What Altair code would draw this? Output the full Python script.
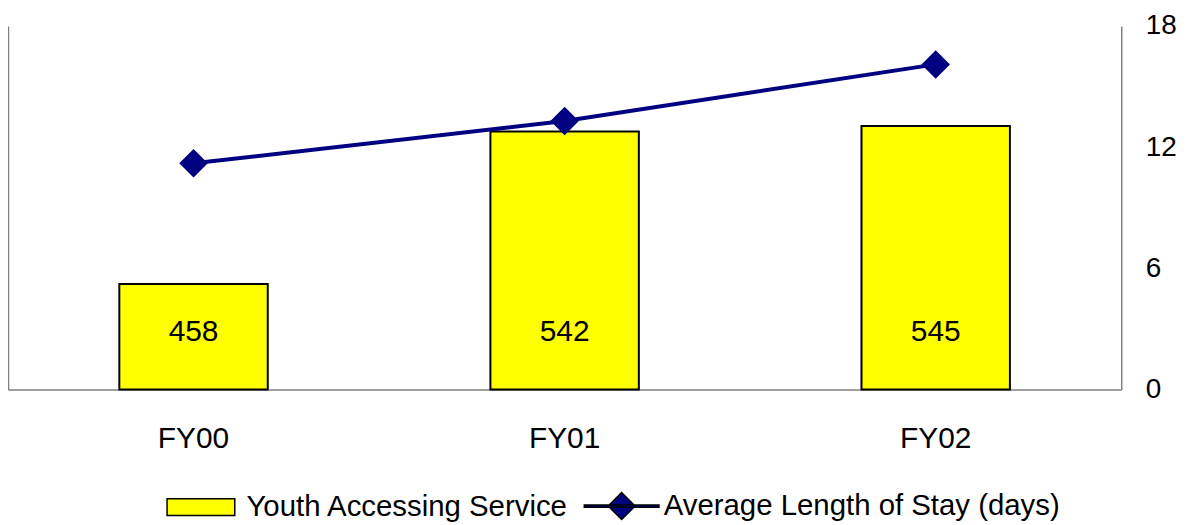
import altair as alt
import pandas as pd

# ---- data ----
years = ["FY00", "FY01", "FY02"]
youth = [458, 542, 545]                 # Youth Accessing Service (bars, left hidden scale)
stay = [11.2, 13.3, 16.1]               # Average Length of Stay (days) (line, right axis)
right_ticks = [0, 6, 12, 18]
youth_axis_range = [400, 600]
series_names = ["Youth Accessing Service", "Average Length of Stay (days)"]

df = pd.DataFrame({"year": years, "youth": youth, "stay": stay})
legend_df = pd.DataFrame({"series": series_names})

FONT = "Liberation Sans"
YELLOW = "#FFFF00"
NAVY = "#000080"
GREY = "#808080"

x_enc = alt.X(
    "year:N",
    sort=years,
    scale=alt.Scale(paddingInner=0, paddingOuter=0),
    axis=alt.Axis(
        title=None, labelAngle=0, ticks=False, tickSize=0, labelPadding=34,
        labelFontSize=30, labelFont=FONT, labelColor="black",
        domainColor=GREY, domainWidth=1.5, grid=False,
    ),
)

bars = alt.Chart(df).mark_bar(
    width=alt.RelativeBandSize(0.4), fill=YELLOW, stroke="black", strokeWidth=2
).encode(
    x=x_enc,
    y=alt.Y(
        "youth:Q",
        scale=alt.Scale(domain=youth_axis_range, zero=False, nice=False),
        axis=alt.Axis(
            orient="left", title=None, labels=False, ticks=False, grid=False,
            domainColor=GREY, domainWidth=1.5,
        ),
    ),
    y2=alt.datum(youth_axis_range[0]),
)

labels = alt.Chart(df).mark_text(
    font=FONT, fontSize=30, color="black", baseline="middle", align="center"
).encode(
    x=alt.X("year:N", sort=years),
    y=alt.value(307),
    text=alt.Text("youth:Q"),
)

line = alt.Chart(df).mark_line(
    color=NAVY, strokeWidth=4,
    point=alt.OverlayMarkDef(shape="diamond", size=820, filled=True, color=NAVY, opacity=1),
).encode(
    x=alt.X("year:N", sort=years),
    y=alt.Y(
        "stay:Q",
        scale=alt.Scale(domain=[0, 18], nice=False),
        axis=alt.Axis(
            orient="right", title=None, values=right_ticks, ticks=False, grid=False,
            labelFontSize=28, labelFont=FONT, labelColor="black", labelPadding=24,
            domainColor=GREY, domainWidth=1.5,
        ),
    ),
)

rect_path = "M-1,-0.85L5.8,-0.85L5.8,0.85L-1,0.85Z"
line_path = "M-1,-0.12L6.5,-0.12L6.5,0.12L-1,0.12Z M1.4,0L2.75,-1.35L4.1,0L2.75,1.35Z"

legend_def = alt.Legend(
    title=None, orient="none", legendX=155, legendY=467, direction="horizontal",
    labelFontSize=29.5, labelFont=FONT, labelColor="black", labelOffset=55,
    labelLimit=1000, symbolSize=400, symbolStrokeWidth=1.5,
    columnPadding=10, padding=0, symbolOpacity=1,
)

legend_layer = alt.Chart(legend_df).mark_point(
    filled=True, size=400, stroke="black", strokeWidth=1.5
).encode(
    color=alt.Color("series:N", sort=series_names,
                    scale=alt.Scale(domain=series_names, range=[YELLOW, NAVY]),
                    legend=legend_def),
    shape=alt.Shape("series:N", sort=series_names,
                    scale=alt.Scale(domain=series_names, range=[rect_path, line_path]),
                    legend=legend_def),
).transform_filter("false")

chart = alt.layer(bars, labels, line, legend_layer).resolve_scale(
    y="independent"
).properties(
    width=1118, height=365,
    autosize=alt.AutoSizeParams(type="none"),
    padding={"left": 0, "top": 17, "right": 58, "bottom": 135},
).configure_view(stroke=None)

chart.save("out.html", embed_options={"renderer": "svg", "actions": False})
